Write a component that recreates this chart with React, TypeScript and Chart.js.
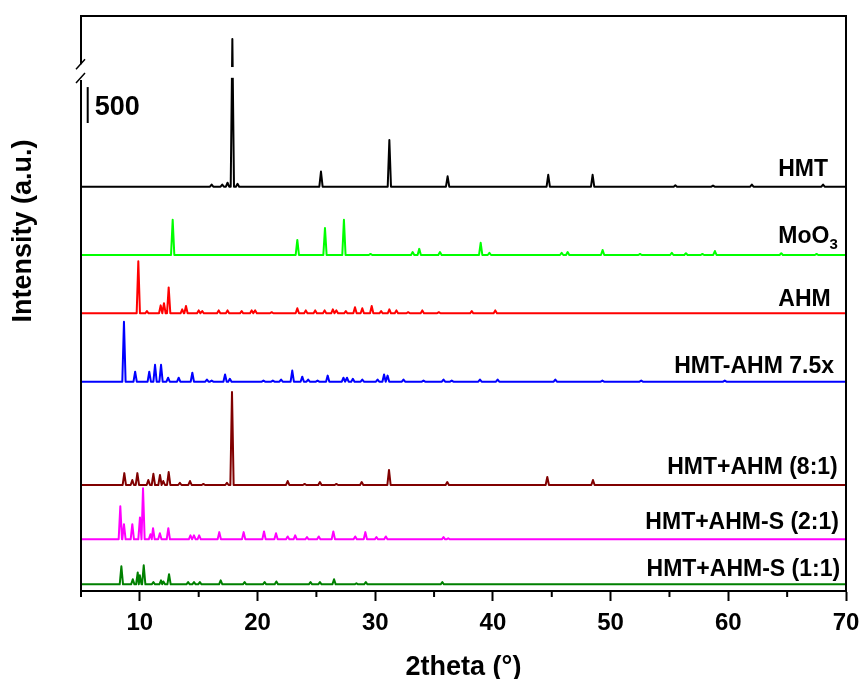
import React, { useEffect, useRef } from 'react';
import { Chart, registerables } from 'chart.js';

Chart.register(...registerables);

const FONT = "'Liberation Sans', Arial, Helvetica, sans-serif";
const X_MIN = 5;
const X_MAX = 70;
const Y_MAX = 8000;
const X_TICK_STEP = 5;

const SERIES_NAMES = ['HMT', 'MoO3', 'AHM', 'HMT-AHM 7.5x', 'HMT+AHM (8:1)', 'HMT+AHM-S (2:1)', 'HMT+AHM-S (1:1)'];
const COLORS = ['#000000', '#00ff00', '#ff0000', '#0000ff', '#800000', '#ff00ff', '#008000'];
const OFFSETS = [5625, 4675, 3864, 2912, 1475, 719, 93];

// peak positions (2theta) and heights (counts above each curve's baseline)
const HMT_POS = [16.1, 17.0, 17.45, 17.86, 18.3, 25.39, 31.2, 36.15, 44.7, 48.47, 55.5, 58.7, 62.0, 68.05];
const HMT_INT = [30, 30, 55, 2055, 40, 210, 650, 145, 165, 165, 20, 15, 30, 30];

const MOO3_POS = [12.79, 23.38, 25.73, 27.34, 29.6, 33.18, 33.74, 35.5, 38.96, 39.7, 45.84, 46.35, 49.32, 52.5, 55.2, 56.4, 57.8, 58.86, 64.5, 67.5];
const MOO3_INT = [490, 210, 375, 490, 15, 40, 85, 40, 170, 30, 30, 40, 70, 15, 30, 25, 15, 55, 25, 15];

const AHM_POS = [9.87, 10.6, 11.77, 12.05, 12.45, 13.6, 13.92, 15.0, 15.3, 16.7, 17.45, 18.65, 19.5, 19.8, 21.2, 23.38, 24.1, 24.9, 25.7, 26.4, 26.7, 27.5, 28.28, 28.9, 29.7, 30.5, 31.2, 31.8, 32.8, 34.0, 35.4, 38.2, 40.2];
const AHM_INT = [725, 30, 110, 140, 360, 55, 100, 40, 30, 40, 40, 30, 40, 40, 15, 70, 40, 40, 40, 55, 40, 30, 85, 70, 100, 30, 55, 40, 15, 40, 15, 30, 40];

const HA75_POS = [8.65, 9.6, 10.8, 11.29, 11.8, 12.4, 13.3, 14.46, 15.7, 16.1, 17.24, 17.65, 20.5, 21.3, 22.0, 22.95, 23.8, 24.3, 25.1, 25.96, 27.3, 27.6, 28.1, 28.9, 30.2, 30.75, 31.05, 32.4, 34.1, 35.8, 36.5, 38.9, 40.4, 45.3, 49.3, 52.6, 59.7];
const HA75_INT = [835, 140, 140, 235, 235, 55, 55, 125, 30, 15, 100, 40, 15, 15, 30, 155, 70, 30, 15, 85, 55, 55, 40, 30, 30, 100, 85, 30, 15, 30, 15, 30, 30, 30, 15, 15, 15];

const M81_POS = [8.68, 9.36, 9.79, 10.72, 11.15, 11.71, 11.99, 12.45, 13.4, 14.26, 15.4, 17.4, 17.83, 22.56, 24.0, 25.3, 26.7, 28.85, 31.17, 36.12, 44.62, 48.5];
const M81_INT = [165, 70, 165, 70, 155, 140, 55, 180, 30, 55, 15, 30, 1295, 55, 15, 40, 15, 40, 210, 40, 110, 70];

const S21_POS = [8.34, 8.65, 9.36, 10.01, 10.27, 10.9, 11.12, 11.7, 12.42, 14.3, 14.6, 15.04, 16.75, 18.82, 20.55, 21.57, 22.56, 23.2, 24.2, 25.2, 26.44, 28.3, 29.16, 30.1, 30.9, 35.8, 36.2];
const S21_INT = [460, 210, 210, 305, 710, 70, 155, 85, 155, 55, 55, 55, 100, 100, 110, 85, 40, 55, 30, 40, 110, 40, 100, 30, 40, 30, 15];

const S11_POS = [8.43, 9.4, 9.82, 10.0, 10.33, 11.15, 11.8, 12.0, 12.48, 14.1, 14.6, 15.1, 16.87, 18.9, 20.6, 21.6, 24.5, 25.3, 26.5, 28.4, 29.2, 35.7];
const S11_INT = [250, 70, 165, 125, 265, 30, 55, 40, 140, 30, 30, 30, 55, 30, 30, 40, 30, 30, 70, 15, 30, 30];

const PEAK_POS = [HMT_POS, MOO3_POS, AHM_POS, HA75_POS, M81_POS, S21_POS, S11_POS];
const PEAK_INT = [HMT_INT, MOO3_INT, AHM_INT, HA75_INT, M81_INT, S21_INT, S11_INT];

// label anchors (right edge in 2theta, cap centre in counts)
const LABEL_X = [68.47, 69.3, 68.7, 68.98, 69.3, 69.4, 69.5];
const LABEL_Y = [5885, 4953, 4077, 3144, 1739, 974, 320];

// scale bar and axis break (counts)
const SCALE_BAR_X = 5.57;
const SCALE_BAR_FROM = 6511;
const SCALE_BAR_SIZE = 500;
const AXIS_BREAK = [7110, 7330];
const PEAK_BREAK = [7140, 7290];
const MAIN_PEAK = 17.86;

const PEAK_HALF_WIDTH = 0.14;

function buildProfile(pos: number[], inten: number[], base: number) {
  const pts: { x: number; y: number }[] = [{ x: X_MIN, y: base }];
  for (let i = 0; i < pos.length; i++) {
    const p = pos[i];
    const prev = i > 0 ? pos[i - 1] : -Infinity;
    const next = i < pos.length - 1 ? pos[i + 1] : Infinity;
    const l = Math.max(p - PEAK_HALF_WIDTH, (p + prev) / 2);
    const r = Math.min(p + PEAK_HALF_WIDTH, (p + next) / 2);
    if (pts[pts.length - 1].x < l) pts.push({ x: l, y: base });
    pts.push({ x: p, y: base + inten[i] });
    pts.push({ x: r, y: base });
  }
  pts.push({ x: X_MAX, y: base });
  return pts;
}

const decorPlugin = {
  id: 'decor',
  afterDraw(chart: any) {
    const { ctx, chartArea: a, scales } = chart;
    const x = scales.x;
    const y = scales.y;
    ctx.save();

    // break in the main HMT peak
    const px = x.getPixelForValue(MAIN_PEAK);
    const pb1 = y.getPixelForValue(PEAK_BREAK[1]);
    const pb2 = y.getPixelForValue(PEAK_BREAK[0]);
    ctx.fillStyle = '#ffffff';
    ctx.fillRect(px - 6, pb1, 12, pb2 - pb1);

    // frame with axis break on the left
    const ab1 = y.getPixelForValue(AXIS_BREAK[1]);
    const ab2 = y.getPixelForValue(AXIS_BREAK[0]);
    ctx.strokeStyle = '#000';
    ctx.lineWidth = 2;
    ctx.beginPath();
    ctx.moveTo(a.left, a.bottom);
    ctx.lineTo(a.left, ab2);
    ctx.moveTo(a.left, ab1);
    ctx.lineTo(a.left, a.top);
    ctx.lineTo(a.right, a.top);
    ctx.lineTo(a.right, a.bottom);
    ctx.stroke();
    ctx.lineWidth = 1.5;
    ctx.beginPath();
    ctx.moveTo(a.left - 5, ab1 + 5);
    ctx.lineTo(a.left + 4, ab1 - 5);
    ctx.moveTo(a.left - 5, ab2 + 3);
    ctx.lineTo(a.left + 4, ab2 - 7);
    ctx.stroke();

    // minor ticks
    ctx.lineWidth = 2;
    ctx.beginPath();
    for (let v = X_MIN; v <= X_MAX; v += 10) {
      const p = x.getPixelForValue(v);
      ctx.moveTo(p, a.bottom);
      ctx.lineTo(p, a.bottom + 6);
    }
    ctx.stroke();

    // series labels
    ctx.fillStyle = '#000';
    ctx.textAlign = 'right';
    ctx.textBaseline = 'alphabetic';
    const size = 23;
    for (let i = 0; i < SERIES_NAMES.length; i++) {
      const rx = x.getPixelForValue(LABEL_X[i]);
      const cy = y.getPixelForValue(LABEL_Y[i]);
      const base = cy + size * 0.358;
      const name = SERIES_NAMES[i];
      if (name === 'MoO3') {
        ctx.font = `bold 15px ${FONT}`;
        const w3 = ctx.measureText('3').width;
        ctx.fillText('3', rx, base + 6);
        ctx.font = `bold ${size}px ${FONT}`;
        ctx.fillText('MoO', rx - w3, base);
      } else {
        ctx.font = `bold ${size}px ${FONT}`;
        ctx.fillText(name, rx, base);
      }
    }

    // scale bar
    const sx = x.getPixelForValue(SCALE_BAR_X);
    const sy1 = y.getPixelForValue(SCALE_BAR_FROM);
    const sy2 = y.getPixelForValue(SCALE_BAR_FROM + SCALE_BAR_SIZE);
    ctx.lineWidth = 2;
    ctx.beginPath();
    ctx.moveTo(sx, sy1);
    ctx.lineTo(sx, sy2);
    ctx.stroke();
    ctx.font = `bold 27px ${FONT}`;
    ctx.textAlign = 'left';
    ctx.fillText(String(SCALE_BAR_SIZE), sx + 7, (sy1 + sy2) / 2 + 27 * 0.358);

    // y-axis title
    ctx.translate(31, 231);
    ctx.rotate(-Math.PI / 2);
    ctx.textAlign = 'center';
    ctx.textBaseline = 'alphabetic';
    ctx.font = `bold 27px ${FONT}`;
    ctx.fillText('Intensity (a.u.)', 0, 0);

    ctx.restore();
  },
};

export default function App() {
  const ref = useRef<HTMLCanvasElement>(null);
  useEffect(() => {
    const datasets = SERIES_NAMES.map((name, i) => ({
      label: name,
      data: buildProfile(PEAK_POS[i], PEAK_INT[i], OFFSETS[i]),
      borderColor: COLORS[i],
      backgroundColor: COLORS[i],
      borderWidth: 2,
      borderJoinStyle: 'round' as const,
      pointRadius: 0,
      fill: false,
      tension: 0,
    }));
    const chart = new Chart(ref.current!, {
      type: 'line',
      data: { datasets },
      plugins: [decorPlugin],
      options: {
        animation: false,
        responsive: true,
        maintainAspectRatio: false,
        parsing: true,
        layout: { padding: { left: 81, top: 16, right: 16, bottom: 0 } },
        plugins: { legend: { display: false }, tooltip: { enabled: false } },
        scales: {
          x: {
            type: 'linear',
            min: X_MIN,
            max: X_MAX,
            afterFit: (s: any) => {
              s.height = 88;
              s.paddingRight = 0;
              s.paddingLeft = 0;
            },
            ticks: {
              stepSize: X_TICK_STEP,
              autoSkip: false,
              maxRotation: 0,
              padding: 8,
              color: '#000',
              font: { family: FONT, size: 24, weight: 'bold' },
              callback: (v: any) => (Number(v) % 10 === 0 ? String(v) : ''),
            },
            grid: {
              display: true,
              drawOnChartArea: false,
              drawTicks: true,
              tickLength: 10,
              tickWidth: 2,
              tickColor: (c: any) => (c.tick && c.tick.value % 10 === 0 ? '#000' : 'rgba(0,0,0,0)'),
            },
            border: { display: true, color: '#000', width: 2 },
            title: {
              display: true,
              text: '2theta (°)',
              color: '#000',
              font: { family: FONT, size: 27, weight: 'bold', lineHeight: 1 },
              padding: { top: 0, bottom: -2 },
            },
          },
          y: {
            type: 'linear',
            display: false,
            min: 0,
            max: Y_MAX,
          },
        },
      },
    } as any);
    return () => chart.destroy();
  }, []);
  return (
    <div style={{ position: 'fixed', left: 0, top: 0, width: 862, height: 679, background: '#fff' }}>
      <canvas ref={ref} />
    </div>
  );
}
